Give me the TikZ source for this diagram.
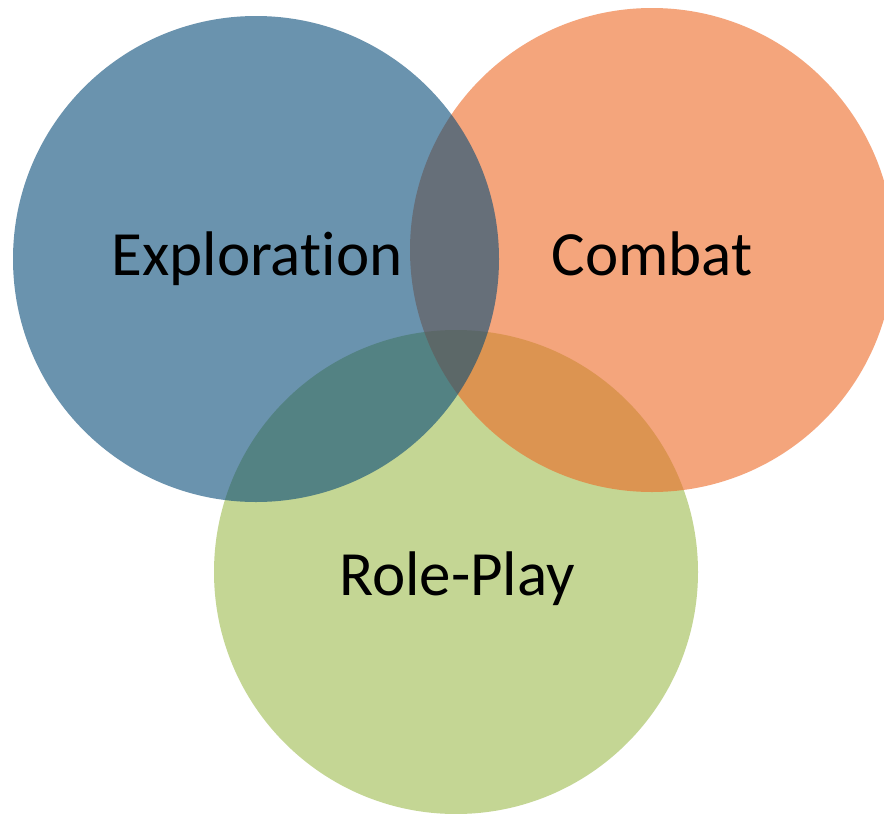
\documentclass[tikz,border=0pt]{standalone}
\usepackage{fontspec}
\setmainfont{Carlito}[Ligatures=NoCommon]
\usepackage{xcolor}

\definecolor{exploreblue}{RGB}{8,75,120}
\definecolor{combatorange}{RGB}{237,105,37}
\definecolor{roleplaygreen}{RGB}{157,187,78}

\begin{document}
\begin{tikzpicture}[x=1pt,y=-1pt,
    venn/.style={fill opacity=0.6},
    venntext/.style={font=\fontsize{63}{76}\selectfont, inner sep=0pt, anchor=base}]
    \useasboundingbox[fill=white] (0,0) rectangle (884,814);
    \clip (0,0) rectangle (884,814);
    % green below, blue on top
    \fill[venn, fill=roleplaygreen] (456,572) circle[radius=242pt];
    \fill[venn, fill=combatorange] (652,250) circle[radius=242pt];
    \fill[venn, fill=exploreblue] (256,259) circle[radius=243pt];
    \node[venntext] (E) at (257,275) {Exploration};
    \node[venntext] (C) at (652,275) {Combat};
    \node[venntext] (R) at (457,595) {Role-Play};
  \end{tikzpicture}
\end{document}
